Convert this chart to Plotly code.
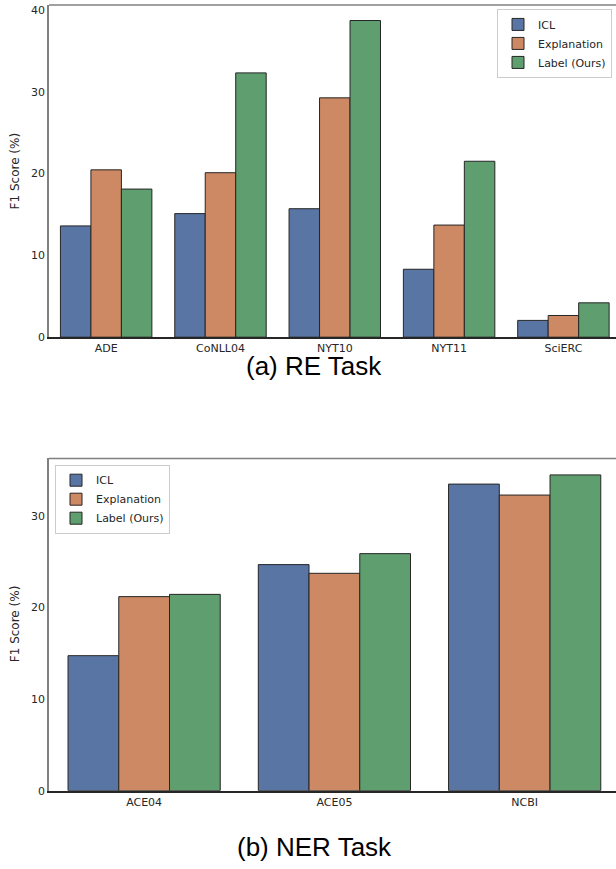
import plotly.graph_objects as go

# ---- data ----
re_datasets = ["ADE", "CoNLL04", "NYT10", "NYT11", "SciERC"]
re_icl = [13.6, 15.1, 15.7, 8.3, 2.05]
re_expl = [20.45, 20.1, 29.25, 13.7, 2.65]
re_label = [18.1, 32.3, 38.7, 21.5, 4.2]

ner_datasets = ["ACE04", "ACE05", "NCBI"]
ner_icl = [14.75, 24.7, 33.5]
ner_expl = [21.2, 23.75, 32.3]
ner_label = [21.45, 25.9, 34.5]

series_names = ["ICL", "Explanation", "Label (Ours)"]
colors = ["#5975a4", "#cc8963", "#5f9e6e"]

W, H = 616, 869
fig = go.Figure()

for name, vals, col in zip(series_names, [re_icl, re_expl, re_label], colors):
    fig.add_trace(go.Bar(x=re_datasets, y=vals, name=name, marker=dict(color=col, line=dict(color="#262626", width=1)),
                         xaxis="x", yaxis="y", legend="legend"))
for name, vals, col in zip(series_names, [ner_icl, ner_expl, ner_label], colors):
    fig.add_trace(go.Bar(x=ner_datasets, y=vals, name=name, marker=dict(color=col, line=dict(color="#262626", width=1)),
                         xaxis="x2", yaxis="y2", legend="legend2"))

tickfont = dict(family="DejaVu Sans", size=11, color="#262626")
common_y = dict(showgrid=False, zeroline=False, ticks="", tickfont=tickfont,
                showline=True, linecolor="#808080", linewidth=1.5, mirror=False)
common_x = dict(showgrid=False, ticks="", tickfont=tickfont, showline=True,
                linecolor="#262626", linewidth=1.5, mirror=False)

top_lines = [
    dict(type="line", xref="x domain", yref="y domain", x0=0, x1=1, y0=1, y1=1,
         line=dict(color="#808080", width=1.5)),
    dict(type="line", xref="x2 domain", yref="y2 domain", x0=0, x1=1, y0=1, y1=1,
         line=dict(color="#808080", width=1.5)),
]

fig.update_layout(
    width=W, height=H,
    margin=dict(l=0, r=0, t=0, b=0),
    paper_bgcolor="white", plot_bgcolor="white",
    barmode="group", bargap=0.2, bargroupgap=0,
    xaxis=dict(common_x, domain=[49 / W, 1.0], anchor="y", range=[-0.5, 4.46]),
    yaxis=dict(common_y, domain=[1 - 339.3 / H, 1 - 4 / H], anchor="x", range=[0, 40.6],
               tickvals=[0, 10, 20, 30, 40]),
    xaxis2=dict(common_x, domain=[49 / W, 1.0], anchor="y2", range=[-0.5, 2.48]),
    yaxis2=dict(common_y, domain=[1 - 797 / H, 1 - 461.7 / H], anchor="x2", range=[0, 36.3],
                tickvals=[0, 10, 20, 30]),
    shapes=top_lines,
    legend=dict(x=612 / W, y=1 - 8 / H, xanchor="right", yanchor="top",
                bordercolor="#cccccc", borderwidth=1, bgcolor="white",
                font=dict(family="DejaVu Sans", size=11, color="#262626"), tracegroupgap=0),
    legend2=dict(x=55 / W, y=1 - 468 / H, xanchor="left", yanchor="top",
                 bordercolor="#cccccc", borderwidth=1, bgcolor="white",
                 font=dict(family="DejaVu Sans", size=11, color="#262626"), tracegroupgap=0),
    annotations=[
        dict(text="F1 Score (%)", x=15 / W, y=1 - 172 / H, xref="paper", yref="paper", xanchor="center",
             yanchor="middle", textangle=-90, showarrow=False,
             font=dict(family="DejaVu Sans", size=12, color="#262626")),
        dict(text="F1 Score (%)", x=15 / W, y=1 - 629 / H, xref="paper", yref="paper", xanchor="center",
             yanchor="middle", textangle=-90, showarrow=False,
             font=dict(family="DejaVu Sans", size=12, color="#262626")),
        dict(text="(a) RE Task", x=314 / W, y=1 - 368 / H, xref="paper", yref="paper", xanchor="center",
             yanchor="middle", showarrow=False, font=dict(family="Liberation Sans", size=26, color="black")),
        dict(text="(b) NER Task", x=314 / W, y=1 - 854 / H, xref="paper", yref="paper", xanchor="center",
             yanchor="middle", showarrow=False, font=dict(family="Liberation Sans", size=26, color="black")),
    ],
)

fig.write_html("out.html", config={"displayModeBar": False},
               post_script="document.body.style.margin='0';document.body.style.overflow='hidden';")
